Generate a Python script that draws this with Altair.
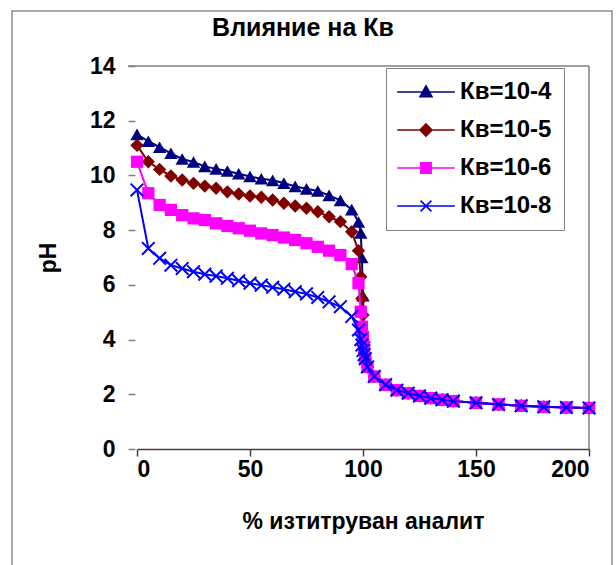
import altair as alt
import pandas as pd

# ---------------- data ----------------
pct_start = [0, 5, 10, 15, 20, 25, 30, 35, 40, 45, 50, 55, 60, 65, 70, 75, 80, 85, 90, 95]
pct_near = [98, 99, 99.5, 100, 100.5]
pct_excess = [101, 102, 105, 110, 115, 120, 125, 130, 135, 140, 150, 160, 170, 180, 190, 200]

ph_start_kb4 = [11.5, 11.25, 11.03, 10.81, 10.6, 10.49, 10.33, 10.24, 10.16, 10.06,
                9.96, 9.88, 9.82, 9.72, 9.6, 9.51, 9.43, 9.27, 9.09, 8.75]
ph_start_kb5 = [11.1, 10.5, 10.22, 9.98, 9.83, 9.71, 9.61, 9.53, 9.4, 9.32,
                9.25, 9.2, 9.1, 8.98, 8.88, 8.8, 8.67, 8.49, 8.31, 7.94]
ph_start_kb6 = [10.5, 9.35, 8.92, 8.74, 8.55, 8.43, 8.37, 8.25, 8.15, 8.07,
                7.98, 7.88, 7.82, 7.73, 7.64, 7.52, 7.39, 7.25, 7.09, 6.76]
ph_start_kb8 = [9.47, 7.33, 6.97, 6.72, 6.6, 6.48, 6.39, 6.32, 6.24, 6.15,
                6.06, 5.99, 5.91, 5.84, 5.75, 5.67, 5.54, 5.38, 5.2, 4.84]

ph_near_kb4 = [8.3, 7.9, 7.0, 5.6, 4.0]
ph_near_kb5 = [7.25, 6.3, 5.5, 4.9, 3.9]
ph_near_kb6 = [6.06, 5.02, 4.47, 4.1, 3.7]
ph_near_kb8 = [4.35, 4.0, 3.8, 3.6, 3.45]

ph_excess = [3.3, 3.0, 2.65, 2.35, 2.15, 2.04, 1.94, 1.86, 1.8, 1.75,
             1.69, 1.63, 1.58, 1.54, 1.52, 1.5]

series_labels = ["Кв=10-4", "Кв=10-5", "Кв=10-6", "Кв=10-8"]
series_colors = ["#000080", "#800000", "#FF00FF", "#0000FF"]

x_ticks = [0, 50, 100, 150, 200]
y_ticks = [0, 2, 4, 6, 8, 10, 12, 14]

chart_title = "Влияние на Кв"
x_title = "% изтитруван аналит"
y_title = "pH"

# ---------------- table ----------------
pct_all = pct_start + pct_near + pct_excess
series_ph = [
    ph_start_kb4 + ph_near_kb4 + ph_excess,
    ph_start_kb5 + ph_near_kb5 + ph_excess,
    ph_start_kb6 + ph_near_kb6 + ph_excess,
    ph_start_kb8 + ph_near_kb8 + ph_excess,
]
rows = []
for lab, vals in zip(series_labels, series_ph):
    for p, v in zip(pct_all, vals):
        rows.append({"series": lab, "pct": p, "ph": v})
df = pd.DataFrame(rows)

FONT = "Liberation Sans"

x_enc = alt.X(
    "pct:Q",
    scale=alt.Scale(domain=[0, 200], nice=False, zero=False),
    axis=alt.Axis(
        values=x_ticks, title=x_title, grid=False,
        labelFont=FONT, labelFontSize=23, labelFontWeight="bold", labelColor="black",
        titleFont=FONT, titleFontSize=23, titleFontWeight="bold", titleColor="black",
        domainColor="#404040", domainWidth=1.5, tickColor="#404040", tickWidth=1.5,
        tickSize=7, labelPadding=2, titlePadding=29,
    ),
)
y_enc = alt.Y(
    "ph:Q",
    scale=alt.Scale(domain=[0, 14], nice=False),
    axis=alt.Axis(
        values=y_ticks, title=y_title, grid=False, domain=False,
        labelFont=FONT, labelFontSize=23, labelFontWeight="bold", labelColor="black",
        titleFont=FONT, titleFontSize=23, titleFontWeight="bold", titleColor="black",
        tickColor="#808080", tickWidth=1.5, tickSize=7, offset=2,
        labelPadding=13, titlePadding=29,
    ),
)

base = alt.Chart(df)

# frame decorations and title text
one = pd.DataFrame({"k": [0]})
outer_frame = alt.Chart(one).mark_rect(
    fillOpacity=0, stroke="#8c8c8c", strokeWidth=1.5
).encode(x=alt.value(-125), x2=alt.value(475), y=alt.value(-55), y2=alt.value(510))
top_rule = alt.Chart(one).mark_rule(color="#7f7f7f", strokeWidth=1.5).encode(
    y=alt.datum(14), x=alt.value(-9), x2=alt.value(452))
right_rule = alt.Chart(one).mark_rule(color="#7f7f7f", strokeWidth=1.5).encode(
    x=alt.datum(200), y=alt.value(0), y2=alt.value(383))
title_text = alt.Chart(one).mark_text(
    text=chart_title, font=FONT, fontSize=25, fontWeight="bold", color="black",
    align="center", baseline="alphabetic"
).encode(x=alt.value(166), y=alt.value(-30))

marker_shapes = ["triangle-up", "diamond", "square", "M-1,-1L1,1M-1,1L1,-1"]
marker_sizes = [180, 180, 150, 160]

layers = [outer_frame, top_rule, right_rule, title_text]
for lab, col, shp, sz in zip(series_labels, series_colors, marker_shapes, marker_sizes):
    sub = base.transform_filter(alt.datum.series == lab)
    layers.append(sub.mark_line(color=col, strokeWidth=2).encode(x=x_enc, y=y_enc))
    if shp.startswith("M"):
        layers.append(sub.mark_point(shape=shp, filled=False, color=col, size=sz,
                                     strokeWidth=2, opacity=1).encode(x=x_enc, y=y_enc))
    else:
        layers.append(sub.mark_point(shape=shp, filled=True, color=col, size=sz,
                                     opacity=1).encode(x=x_enc, y=y_enc))

# legend-only layer (invisible points, visible legend)
legend_paths = [
    "M-4.8,0H4.8M0,-1L1,0.8L-1,0.8Z",
    "M-4.8,0H4.8M0,-1L1,0L0,1L-1,0Z",
    "M-4.8,0H4.8M-0.85,-0.85H0.85V0.85H-0.85Z",
    "M-4.8,0H4.8M-0.9,-0.9L0.9,0.9M-0.9,0.9L0.9,-0.9",
]
legend_fill = series_colors[:3] + ["rgba(0,0,0,0)"]
leg = alt.Legend(
    title=None, orient="none", legendX=249, legendY=2,
    labelFont=FONT, labelFontSize=24, labelFontWeight="bold", labelColor="black",
    labelLimit=300, symbolSize=144, symbolStrokeWidth=1.6, symbolOpacity=1,
    symbolOffset=16, labelOffset=22, rowPadding=14, padding=12,
    fillColor="white", strokeColor="#808080",
)
legend_layer = base.mark_point(opacity=0, filled=True).encode(
    x=x_enc, y=y_enc,
    shape=alt.Shape("series:N", scale=alt.Scale(domain=series_labels, range=legend_paths), legend=leg),
    fill=alt.Fill("series:N", scale=alt.Scale(domain=series_labels, range=legend_fill), legend=leg),
    stroke=alt.Stroke("series:N", scale=alt.Scale(domain=series_labels, range=series_colors), legend=leg),
)
layers.append(legend_layer)

chart = alt.layer(*layers).properties(
    width=452, height=383,
    autosize=alt.AutoSizeParams(type="none"),
    padding={"left": 137, "top": 66, "right": 27, "bottom": 116},
    background="white",
).configure_view(stroke=None)

chart.save("out.html", embed_options={"renderer": "svg", "actions": False})
